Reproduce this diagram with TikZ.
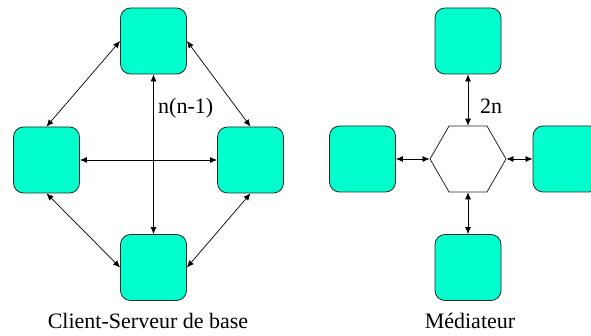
\documentclass[tikz,border=0pt]{standalone}
\usepackage{fontspec}
\setmainfont{Liberation Serif}
\usetikzlibrary{arrows.meta,shapes.geometric}
\definecolor{boxfill}{RGB}{0,255,204}
\begin{document}
\begin{tikzpicture}[x=1pt,y=-1pt,
  box/.style={draw=black!85,fill=boxfill,rounded corners=10pt,minimum width=66pt,minimum height=66pt,inner sep=0pt,line width=0.8pt},
  hexa/.style={draw=black!85,regular polygon,regular polygon sides=6,minimum size=76pt,inner sep=0pt,line width=0.8pt},
  link/.style={line width=0.7pt,{Latex[length=7pt,width=6pt]}-{Latex[length=7pt,width=6pt]}},
  lbl/.style={inner sep=0pt,font=\fontsize{22}{26}\selectfont}]
\useasboundingbox (0,0) rectangle (591,336);
% left diagram
\node[box] (t1) at (153.5,41) {};
\node[box] (l1) at (46.5,160) {};
\node[box] (r1) at (250.5,160) {};
\node[box] (b1) at (153.5,267.5) {};
\draw[link] (t1.west) -- (l1.north);
\draw[link] (t1.east) -- (r1.north);
\draw[link] (l1.south) -- (b1.west);
\draw[link] (r1.south) -- (b1.east);
\draw[link] (t1.south) -- (b1.north);
\draw[link] (l1.east) -- (r1.west);
\node[lbl,anchor=base west] (lab1) at (158,114) {n(n-1)};
\node[lbl,anchor=base] (cap1) at (148,328) {Client-Serveur de base};
% right diagram
\node[hexa] (h) at (468,159) {};
\node[box] (t2) at (468,41) {};
\node[box] (l2) at (362.5,159) {};
\node[box] (r2) at (566,159) {};
\node[box] (b2) at (468,267.5) {};
\draw[link] (t2.south) -- (h.north);
\draw[link] (b2.north) -- (h.south);
\draw[link] (l2.east) -- (h.west);
\draw[link] (r2.west) -- (h.east);
\node[lbl,anchor=base west] (lab2) at (480,114) {2n};
\node[lbl,anchor=base] (cap2) at (470,328) {Médiateur};
\end{tikzpicture}
\end{document}
